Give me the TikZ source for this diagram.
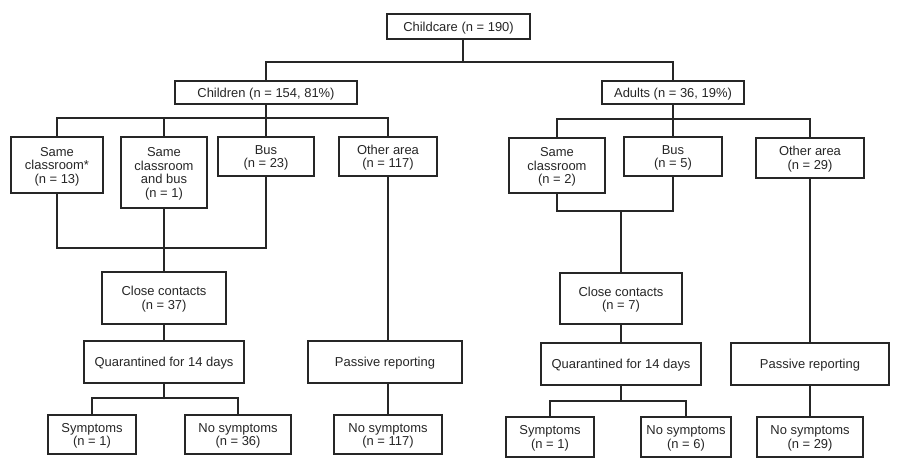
\documentclass[tikz,border=0pt]{standalone}
\usepackage{fontspec}
\setmainfont{Liberation Sans}
\definecolor{ink}{HTML}{262626}
\newcommand{\tx}[1]{\raisebox{-2pt}[\height][\depth]{\begin{tabular}{@{}c@{}}#1\end{tabular}}}
\begin{document}
\begin{tikzpicture}[x=1bp,y=-1bp,
  box/.style={draw=ink, line width=1.5bp, inner sep=0pt, text=ink,
    font=\fontsize{13}{13.6}\selectfont},
  conn/.style={draw=ink, line width=1.5bp}]
\useasboundingbox[fill=white] (0,0) rectangle (900,470);
% top
\node[box, minimum width=143bp, minimum height=25bp] (cc) at (458.5,26.5) {\tx{Childcare (n = 190)}};
\node[box, minimum width=182bp, minimum height=23bp] (ch) at (266,92.5) {\tx{Children (n = 154, 81\%)}};
\node[box, minimum width=142bp, minimum height=23bp] (ad) at (673,92.5) {\tx{Adults (n = 36, 19\%)}};
% children branch
\node[box, minimum width=92bp, minimum height=56bp] (c1) at (57,165) {\tx{Same\\classroom*\\(n = 13)}};
\node[box, minimum width=86bp, minimum height=71bp] (c2) at (164,172.5) {\tx{Same\\classroom\\and bus\\(n = 1)}};
\node[box, minimum width=96bp, minimum height=39bp] (c3) at (266,156.5) {\tx{Bus\\(n = 23)}};
\node[box, minimum width=98bp, minimum height=39bp] (c4) at (388,156.5) {\tx{Other area\\(n = 117)}};
\node[box, minimum width=124bp, minimum height=52bp] (cl1) at (164,298) {\tx{Close contacts\\(n = 37)}};
\node[box, minimum width=160bp, minimum height=42bp] (q1) at (164,362) {\tx{Quarantined for 14 days}};
\node[box, minimum width=88bp, minimum height=39bp] (s1) at (92,434.5) {\tx{Symptoms\\(n = 1)}};
\node[box, minimum width=106bp, minimum height=39bp] (n1) at (238,434.5) {\tx{No symptoms\\(n = 36)}};
\node[box, minimum width=154bp, minimum height=42bp] (p1) at (385,362) {\tx{Passive reporting}};
\node[box, minimum width=108bp, minimum height=39bp] (o1) at (388,434.5) {\tx{No symptoms\\(n = 117)}};
% adults branch
\node[box, minimum width=96bp, minimum height=55bp] (a1) at (557,165.5) {\tx{Same\\classroom\\(n = 2)}};
\node[box, minimum width=98bp, minimum height=39bp] (a2) at (673,156.5) {\tx{Bus\\(n = 5)}};
\node[box, minimum width=108bp, minimum height=40bp] (a3) at (810,158) {\tx{Other area\\(n = 29)}};
\node[box, minimum width=122bp, minimum height=51bp] (cl2) at (621,298.5) {\tx{Close contacts\\(n = 7)}};
\node[box, minimum width=160bp, minimum height=42bp] (q2) at (621,364) {\tx{Quarantined for 14 days}};
\node[box, minimum width=88bp, minimum height=40bp] (s2) at (550,437) {\tx{Symptoms\\(n = 1)}};
\node[box, minimum width=90bp, minimum height=40bp] (n2) at (686,437) {\tx{No symptoms\\(n = 6)}};
\node[box, minimum width=158bp, minimum height=42bp] (p2) at (810,364) {\tx{Passive reporting}};
\node[box, minimum width=106bp, minimum height=40bp] (o2) at (810,437) {\tx{No symptoms\\(n = 29)}};
% bus levels
\coordinate (top) at (0,62);
\coordinate (cb) at (0,118);
\coordinate (cm) at (0,248);
\coordinate (cs) at (0,398);
\coordinate (ab) at (0,119);
\coordinate (am) at (0,211);
\coordinate (as) at (0,401);
% connectors
\draw[conn] ([xshift=4.5bp]cc.south) -- ([xshift=4.5bp]cc.south |- top);
\draw[conn] (ch.north) |- (top -| ad.north) -- (ad.north);
\draw[conn] (ch.south) -- (ch.south |- cb);
\draw[conn] (c1.north) |- (cb -| c4.north) -- (c4.north);
\draw[conn] (c2.north) -- (c2.north |- cb);
\draw[conn] (c3.north) -- (c3.north |- cb);
\draw[conn] (c1.south) |- (cm -| c3.south) -- (c3.south);
\draw[conn] (c2.south) -- (cl1.north);
\draw[conn] (cl1.south) -- (q1.north);
\draw[conn] (q1.south) -- (q1.south |- cs);
\draw[conn] (s1.north) |- (cs -| n1.north) -- (n1.north);
\draw[conn] (c4.south) -- (c4.south |- p1.north);
\draw[conn] (o1.north |- p1.south) -- (o1.north);
\draw[conn] (ad.south) -- (ad.south |- ab);
\draw[conn] (a1.north) |- (ab -| a3.north) -- (a3.north);
\draw[conn] (a2.north) -- (a2.north |- ab);
\draw[conn] (a1.south) |- (am -| a2.south) -- (a2.south);
\draw[conn] (cl2.north |- am) -- (cl2.north);
\draw[conn] (cl2.south) -- (q2.north);
\draw[conn] (q2.south) -- (q2.south |- as);
\draw[conn] (s2.north) |- (as -| n2.north) -- (n2.north);
\draw[conn] (a3.south) -- (a3.south |- p2.north);
\draw[conn] (p2.south) -- (o2.north);
\end{tikzpicture}
\end{document}
